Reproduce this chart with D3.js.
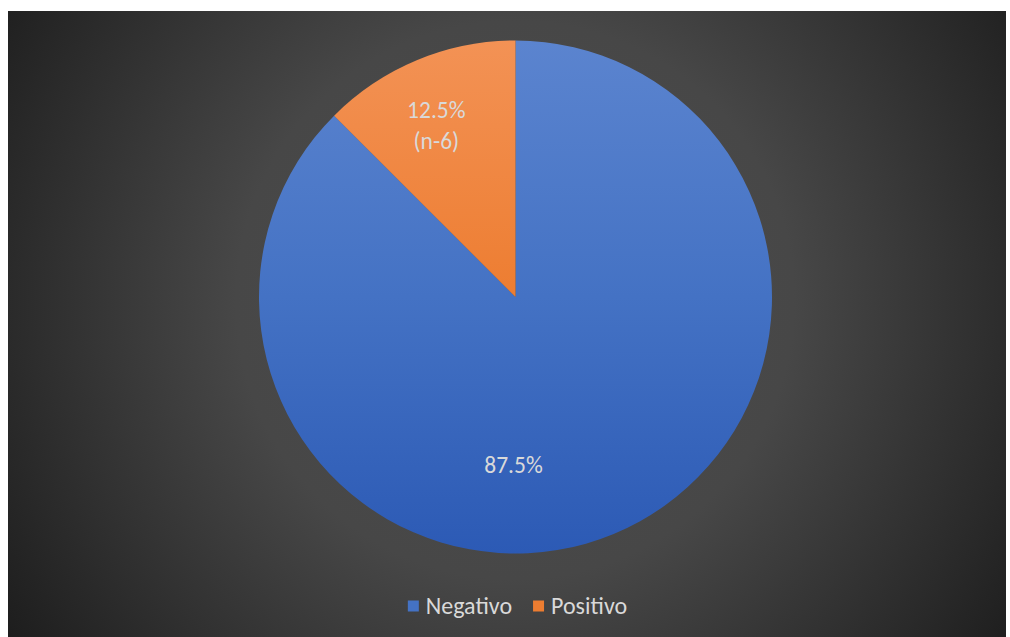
<!DOCTYPE html>
<html><head><meta charset="utf-8">
<script src="https://cdn.jsdelivr.net/npm/d3@7"></script>
<style>html,body{margin:0;padding:0;background:#fff;}svg{display:block;}</style>
</head><body>
<svg id="chart" width="1010" height="637"></svg>
<script>
const categories = ["Negativo", "Positivo"];
const values = [87.5, 12.5];
const labelLines = [["87.5%"], ["12.5%", "(n-6)"]];

const svg = d3.select("#chart");
const defs = svg.append("defs");

const bg = defs.append("radialGradient").attr("id","bg")
  .attr("gradientUnits","userSpaceOnUse").attr("cx",515).attr("cy",300).attr("r",620);
bg.append("stop").attr("offset","0%").attr("stop-color","#4d4d4d");
bg.append("stop").attr("offset","45%").attr("stop-color","#474747");
bg.append("stop").attr("offset","100%").attr("stop-color","#1c1c1c");

const cx = 515.5, cy = 297, R = 256.5;

const fills = [["#5b84cf","#4472c4","#2c5ab5"],["#f39255","#ed7d31","#e0661a"]];
fills.forEach((f,i)=>{
  const g = defs.append("linearGradient").attr("id","sg"+i)
    .attr("gradientUnits","userSpaceOnUse").attr("x1",0).attr("y1",-R).attr("x2",0).attr("y2",R);
  g.append("stop").attr("offset","0%").attr("stop-color",f[0]);
  g.append("stop").attr("offset","50%").attr("stop-color",f[1]);
  g.append("stop").attr("offset","100%").attr("stop-color",f[2]);
});

svg.append("rect").attr("x",8).attr("y",11).attr("width",998).attr("height",626).attr("fill","url(#bg)");

const pie = d3.pie().sort(null).value(d=>d)(values);
const arc = d3.arc().innerRadius(0).outerRadius(R);
const g = svg.append("g").attr("transform",`translate(${cx},${cy})`);
g.selectAll("path").data(pie).join("path")
  .attr("d",arc).attr("fill",(d,i)=>`url(#sg${i})`);

// labels
const labelRadius = [168, 186];
const labelShift = [-2, -8];
const font = "Calibri, Carlito, Lato, sans-serif";
pie.forEach((d,i)=>{
  const a = i===0 ? Math.PI : (d.startAngle+d.endAngle)/2;
  const x = labelRadius[i]*Math.sin(a) + labelShift[i];
  const y = -labelRadius[i]*Math.cos(a);
  const lines = labelLines[i];
  const lh = 31;
  const t = g.append("text").attr("text-anchor","middle").attr("fill","#d9d9d9")
    .attr("font-family",font).attr("font-size",23.5);
  lines.forEach((l,j)=>{
    t.append("tspan").attr("x",x).attr("y",y+(j-(lines.length-1)/2)*lh).attr("dy","0.35em").text(l);
  });
});

// legend
const colors = ["#4472c4","#ed7d31"];
const leg = svg.append("g").attr("font-family",font).attr("font-size",24).attr("fill","#d9d9d9");
const items = leg.selectAll("g").data(categories).join("g");
items.append("rect").attr("width",11).attr("height",11).attr("y",-5.5).attr("fill",(d,i)=>colors[i]);
items.append("text").attr("x",18).attr("dy","0.35em").text(d=>d);
const widths=[];
items.each(function(){ widths.push(this.getBBox().width); });
const gap = 21;
const total = d3.sum(widths)+gap*(widths.length-1);
let x0 = cx - total/2 + 2;
items.attr("transform",(d,i)=>{ const tx = x0; x0 += widths[i]+gap; return `translate(${tx},606)`; });
</script>
</body></html>
